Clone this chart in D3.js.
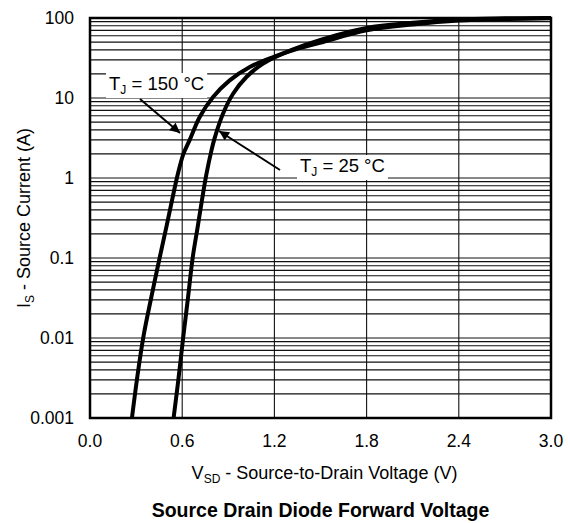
<!DOCTYPE html>
<html lang="en">
<head>
    <meta charset="UTF-8">
    <script src="https://d3js.org/d3.v7.min.js"></script>
    <style>
        body { margin: 0; background: white; }
        text { font-family: "Liberation Sans", Arial, sans-serif; fill: black; }
    </style>
</head>
<body>
    <svg id="chart" width="570" height="523"></svg>
    <script>
        // data (V in volts, I in amps)
        const xTicks = [0.0, 0.6, 1.2, 1.8, 2.4, 3.0];
        const yTicks = [0.001, 0.01, 0.1, 1, 10, 100];
        const yTickLabels = ["0.001", "0.01", "0.1", "1", "10", "100"];

        const v150 = [0.273, 0.310, 0.350, 0.400, 0.453, 0.500, 0.540, 0.572, 0.608, 0.649, 0.714, 0.801, 0.909, 1.040, 1.192, 1.344, 1.496, 1.80, 2.10, 2.40, 2.70, 3.0];
        const i150 = [0.001, 0.0035, 0.011, 0.033, 0.1, 0.26, 0.6, 1.13, 2.0, 3.0, 5.8, 10.3, 16.6, 24.4, 32.5, 41, 49, 70, 83, 93, 97, 99];

        const v25 = [0.544, 0.575, 0.606, 0.637, 0.668, 0.700, 0.730, 0.757, 0.790, 0.812, 0.866, 0.931, 1.018, 1.126, 1.214, 1.40, 1.80, 2.10, 2.40, 2.70, 3.0];
        const i25 = [0.001, 0.003, 0.01, 0.031, 0.1, 0.24, 0.55, 1.1, 2.2, 3.2, 6.4, 11.3, 18.3, 26.9, 33, 46, 75, 87, 96, 99, 100];

        const margin = { top: 18, right: 19, bottom: 105, left: 90 };
        const width = 570, height = 523;

        const svg = d3.select("#chart");

        const x = d3.scaleLinear()
            .domain([0, 3])
            .range([margin.left, width - margin.right]);

        const y = d3.scaleLog()
            .domain([0.001, 100])
            .range([height - margin.bottom, margin.top]);

        // grid
        const minor = [];
        for (let e = -3; e < 2; e++) {
            for (let m = 1; m < 10; m++) minor.push(m * Math.pow(10, e));
        }
        minor.push(100);

        svg.append("g").selectAll("line")
            .data(minor)
            .enter().append("line")
            .attr("x1", x(0)).attr("x2", x(3))
            .attr("y1", d => y(d)).attr("y2", d => y(d))
            .attr("stroke", "#111").attr("stroke-width", 1.1);

        svg.append("g").selectAll("line")
            .data(xTicks.slice(1, -1))
            .enter().append("line")
            .attr("x1", d => x(d)).attr("x2", d => x(d))
            .attr("y1", y(0.001)).attr("y2", y(100))
            .attr("stroke", "#111").attr("stroke-width", 1.1);

        // tick labels
        svg.append("g").selectAll("text")
            .data(yTicks)
            .enter().append("text")
            .attr("x", margin.left - 16)
            .attr("y", d => y(d) + 6)
            .attr("text-anchor", "end")
            .style("font-size", "17.5px")
            .text((d, i) => yTickLabels[i]);

        svg.append("g").selectAll("text")
            .data(xTicks)
            .enter().append("text")
            .attr("x", d => x(d))
            .attr("y", y(0.001) + 29)
            .attr("text-anchor", "middle")
            .style("font-size", "17.5px")
            .text(d => d.toFixed(1));

        // annotation boxes mask the grid
        function tag(tx, ty, temp) {
            const t = svg.append("text")
                .attr("x", tx).attr("y", ty)
                .style("font-size", "18.5px");
            t.append("tspan").text("T");
            t.append("tspan").attr("dy", 4).style("font-size", "12px").text("J");
            t.append("tspan").attr("dy", -4).text(" = " + temp + " \u00B0C");
            const b = t.node().getBBox();
            svg.insert("rect", () => t.node())
                .attr("x", b.x - 3).attr("y", b.y)
                .attr("width", b.width + 6).attr("height", b.height + 1)
                .attr("fill", "white");
        }
        tag(109, 90, "150");
        tag(300, 172, "25");

        // arrows
        svg.append("defs").append("marker")
            .attr("id", "head")
            .attr("viewBox", "0 0 10 10")
            .attr("refX", 10).attr("refY", 5)
            .attr("markerWidth", 14).attr("markerHeight", 10)
            .attr("markerUnits", "userSpaceOnUse")
            .attr("orient", "auto")
            .append("path").attr("d", "M0,0 L10,5 L0,10 z").attr("fill", "black");

        svg.append("line")
            .attr("x1", 140).attr("y1", 99).attr("x2", 180).attr("y2", 133)
            .attr("stroke", "black").attr("stroke-width", 2)
            .attr("marker-end", "url(#head)");
        svg.append("line")
            .attr("x1", 280).attr("y1", 170).attr("x2", 219).attr("y2", 131)
            .attr("stroke", "black").attr("stroke-width", 2)
            .attr("marker-end", "url(#head)");

        // curves
        const line = d3.line()
            .x(d => x(d[0]))
            .y(d => y(d[1]))
            .curve(d3.curveCatmullRom.alpha(0.5));

        [[v150, i150], [v25, i25]].forEach(([vs, is]) => {
            svg.append("path")
                .datum(d3.zip(vs, is))
                .attr("d", line)
                .attr("fill", "none")
                .attr("stroke", "black")
                .attr("stroke-width", 4);
        });

        // frame
        svg.append("rect")
            .attr("x", x(0)).attr("y", y(100))
            .attr("width", x(3) - x(0)).attr("height", y(0.001) - y(100))
            .attr("fill", "none").attr("stroke", "black").attr("stroke-width", 2.5);

        // axis titles
        const xt = svg.append("text")
            .attr("x", (x(0) + x(3)) / 2 + 4)
            .attr("y", 479)
            .attr("text-anchor", "middle")
            .style("font-size", "18px");
        xt.append("tspan").text("V");
        xt.append("tspan").attr("dy", 4).style("font-size", "12px").text("SD");
        xt.append("tspan").attr("dy", -4).text(" - Source-to-Drain Voltage (V)");

        const yt = svg.append("text")
            .attr("transform", `translate(30,${(y(0.001) + y(100)) / 2}) rotate(-90)`)
            .attr("text-anchor", "middle")
            .style("font-size", "18px");
        yt.append("tspan").text("I");
        yt.append("tspan").attr("dy", 4).style("font-size", "12px").text("S");
        yt.append("tspan").attr("dy", -4).text(" - Source Current (A)");

        svg.append("text")
            .attr("x", (x(0) + x(3)) / 2)
            .attr("y", 517)
            .attr("text-anchor", "middle")
            .style("font-size", "19.5px")
            .style("font-weight", "bold")
            .text("Source Drain Diode Forward Voltage");
    </script>
</body>
</html>
